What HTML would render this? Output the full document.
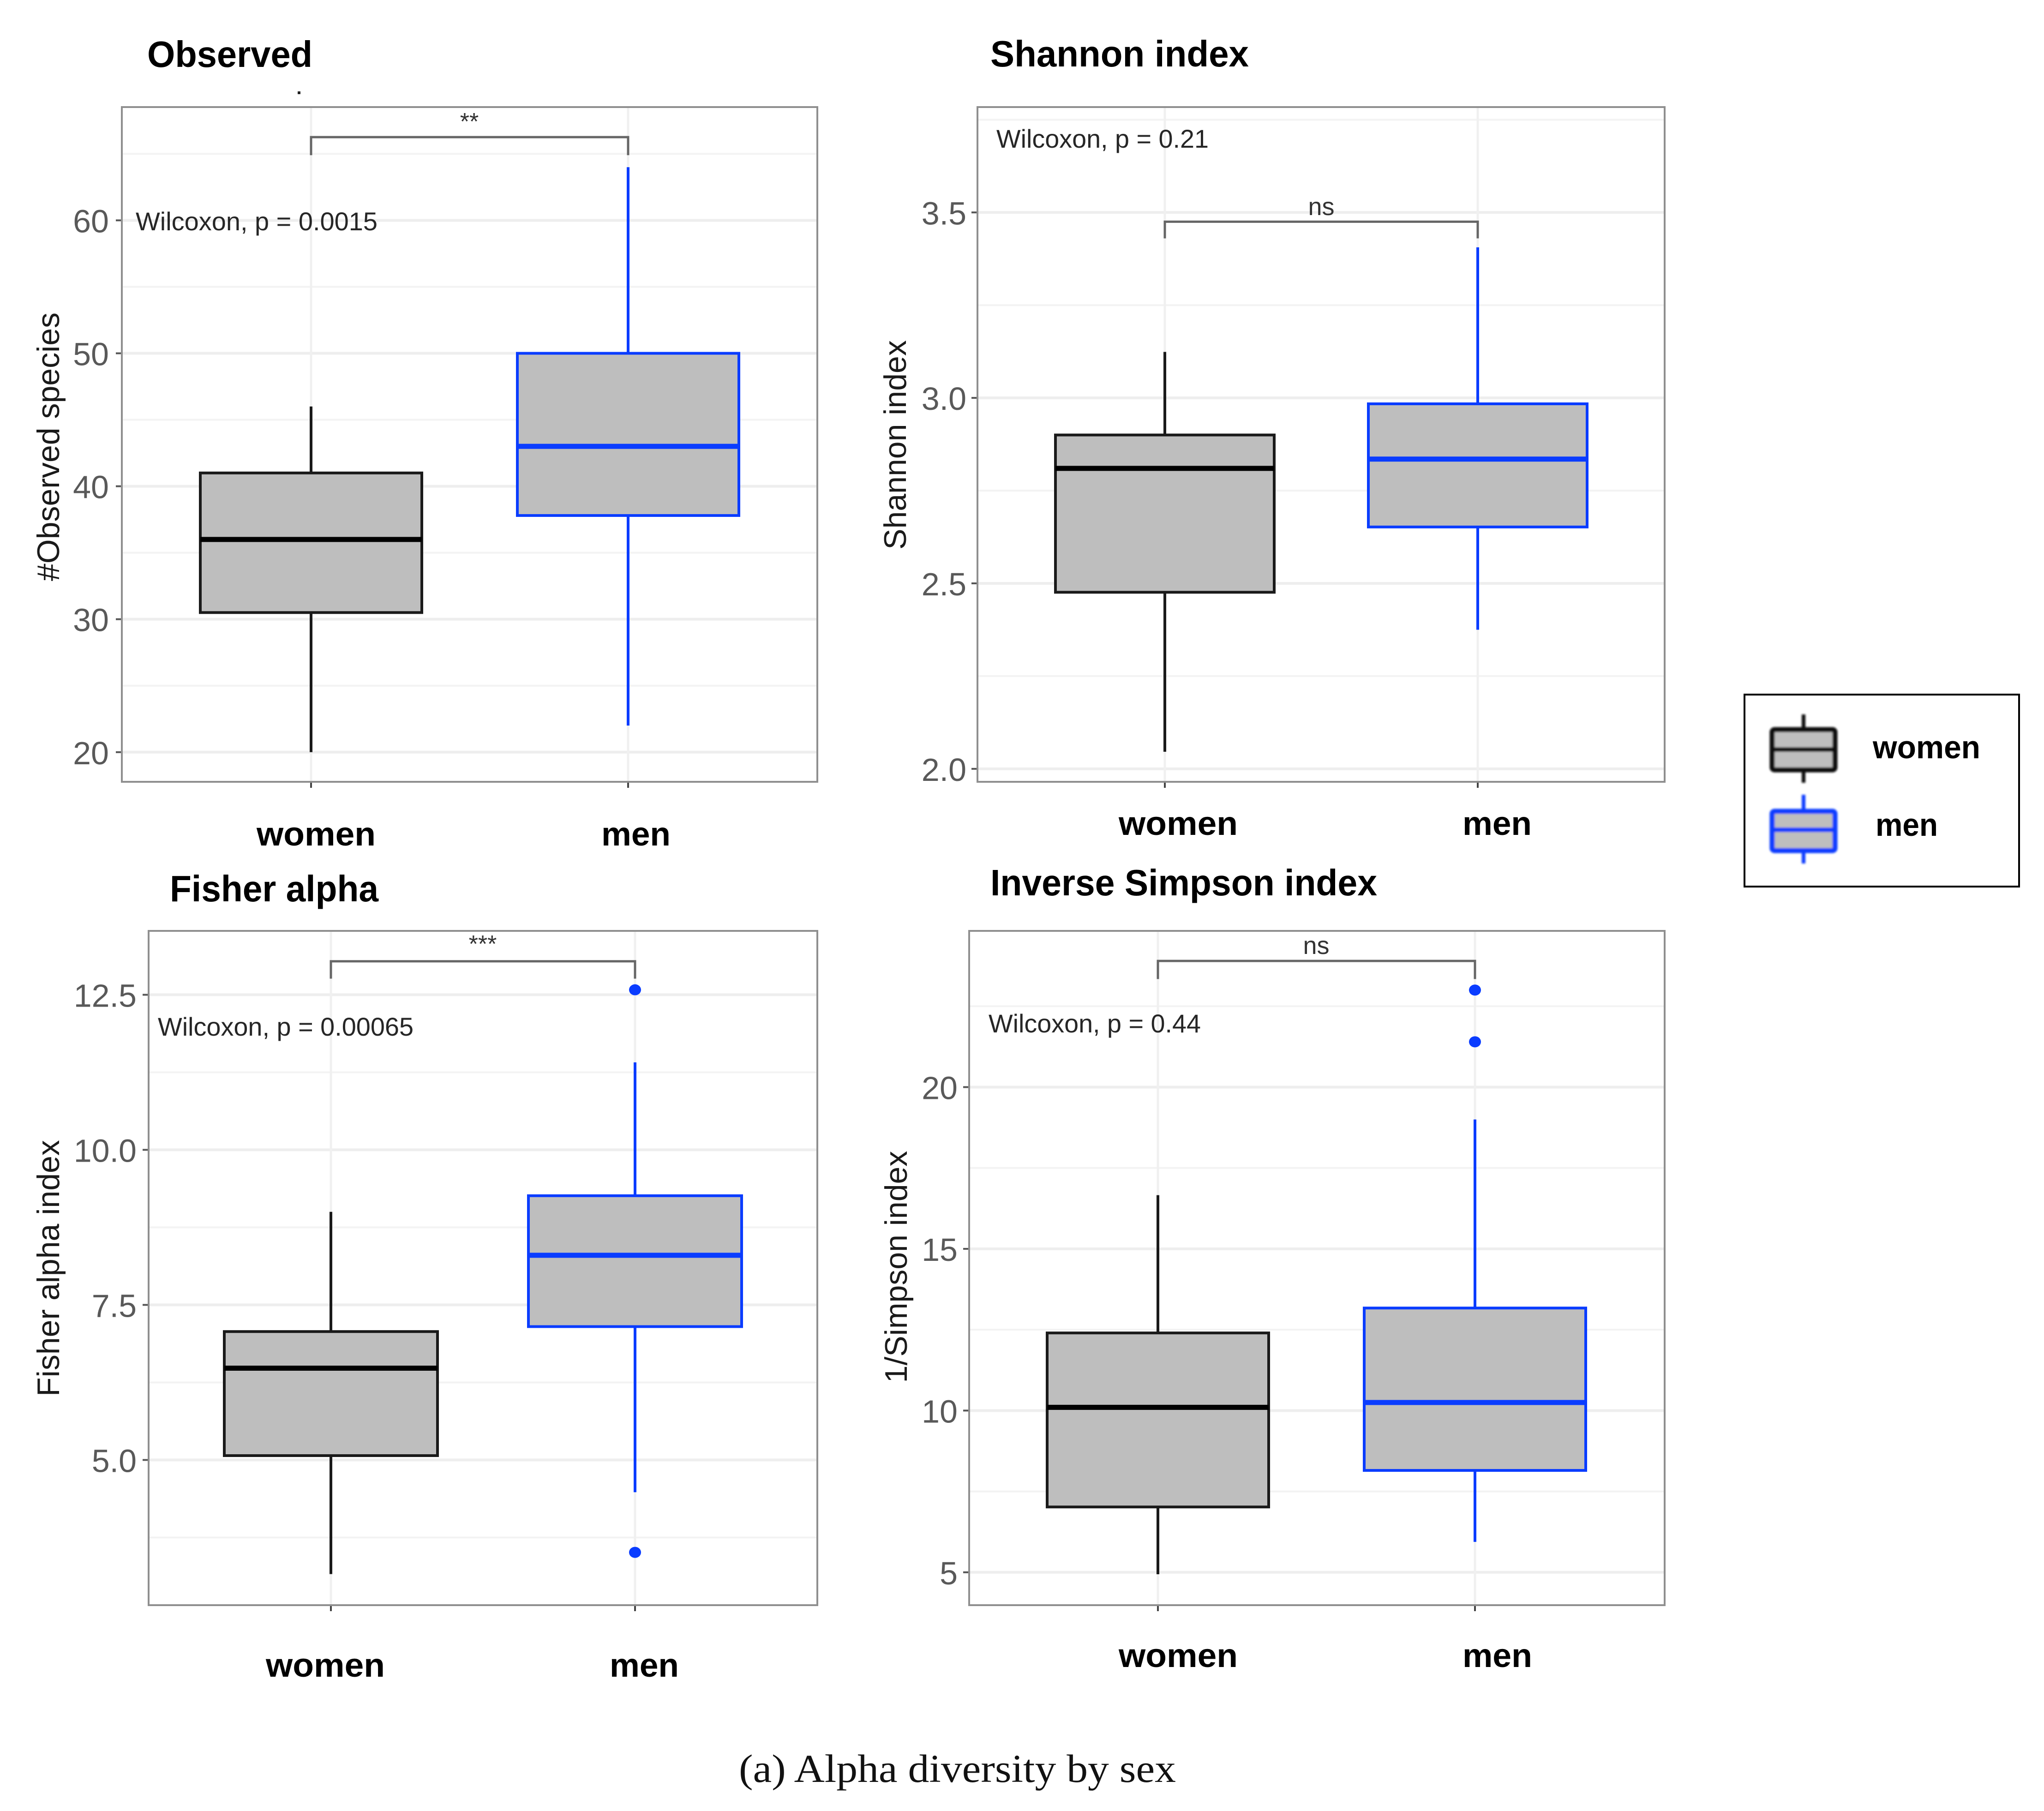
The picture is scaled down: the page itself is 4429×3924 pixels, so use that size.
<!DOCTYPE html>
<html lang="en">
<head>
<meta charset="utf-8">
<title>Alpha diversity by sex</title>
<style>
html,body{margin:0;padding:0;background:#fff;}
svg{display:block;}
.t{font-family:"Liberation Sans",sans-serif;}
.b{font-family:"Liberation Sans",sans-serif;font-weight:700;fill:#000;}
.w{font-size:55.6px;fill:#262626;}
.a{font-size:68px;fill:#1a1a1a;}
</style>
</head>
<body>
<svg id="chart" xmlns="http://www.w3.org/2000/svg" width="4429" height="3924" viewBox="0 0 4429 3924">
  <defs>
    <filter id="soft" x="-10%" y="-10%" width="120%" height="120%"><feGaussianBlur stdDeviation="2"/></filter>
  </defs>
  <rect x="0" y="0" width="4429" height="3924" fill="#fff"/>
  <g id="panels"></g>

  <rect x="645" y="198" width="6" height="6" fill="#222"/>

  <text class="b" x="319" y="145" font-size="80" textLength="358" lengthAdjust="spacingAndGlyphs">Observed</text>
  <text class="b" x="2146" y="144" font-size="80" textLength="560" lengthAdjust="spacingAndGlyphs">Shannon index</text>
  <text class="b" x="368" y="1953" font-size="80" textLength="452" lengthAdjust="spacingAndGlyphs">Fisher alpha</text>
  <text class="b" x="2146" y="1940" font-size="80" textLength="838" lengthAdjust="spacingAndGlyphs">Inverse Simpson index</text>

  <text class="t w" x="294" y="499" textLength="524" lengthAdjust="spacingAndGlyphs">Wilcoxon, p = 0.0015</text>
  <text class="t w" x="2159" y="320" textLength="460" lengthAdjust="spacingAndGlyphs">Wilcoxon, p = 0.21</text>
  <text class="t w" x="342" y="2244" textLength="554" lengthAdjust="spacingAndGlyphs">Wilcoxon, p = 0.00065</text>
  <text class="t w" x="2142" y="2237" textLength="460" lengthAdjust="spacingAndGlyphs">Wilcoxon, p = 0.44</text>

  <text class="t" x="1017" y="281" font-size="52" fill="#333" text-anchor="middle">**</text>
  <text class="t" x="2863" y="466" font-size="54" fill="#333" text-anchor="middle">ns</text>
  <text class="t" x="1046" y="2063" font-size="52" fill="#333" text-anchor="middle">***</text>
  <text class="t" x="2852" y="2067" font-size="54" fill="#333" text-anchor="middle">ns</text>

  <text class="t a" transform="translate(128 968) rotate(-90)" text-anchor="middle">#Observed species</text>
  <text class="t a" transform="translate(1963 964) rotate(-90)" text-anchor="middle">Shannon index</text>
  <text class="t a" transform="translate(128 2748) rotate(-90)" text-anchor="middle">Fisher alpha index</text>
  <text class="t a" transform="translate(1965 2745) rotate(-90)" text-anchor="middle">1/Simpson index</text>

  <g>
    <rect x="3780" y="1505" width="595" height="416" fill="#fff" stroke="#000" stroke-width="4"/>
    <g filter="url(#soft)">
      <line x1="3908" x2="3908" y1="1548" y2="1696" stroke="#111" stroke-width="8"/>
      <rect x="3840" y="1581" width="136" height="87" rx="5" fill="#bebebe" stroke="#111" stroke-width="11"/>
      <line x1="3838" x2="3978" y1="1624" y2="1624" stroke="#111" stroke-width="10"/>
    </g>
    <text class="b" x="4058" y="1643" font-size="70" textLength="233" lengthAdjust="spacingAndGlyphs">women</text>
    <g filter="url(#soft)">
      <line x1="3908" x2="3908" y1="1722" y2="1871" stroke="#0a3cff" stroke-width="8"/>
      <rect x="3840" y="1758" width="136" height="85" rx="5" fill="#bebebe" stroke="#0a3cff" stroke-width="11"/>
      <line x1="3838" x2="3978" y1="1798" y2="1798" stroke="#0a3cff" stroke-width="10"/>
    </g>
    <text class="b" x="4064" y="1811" font-size="70" textLength="135" lengthAdjust="spacingAndGlyphs">men</text>
  </g>

  <text x="1601" y="3861" font-family="'Liberation Serif',serif" font-size="86" fill="#111" textLength="947" lengthAdjust="spacingAndGlyphs">(a) Alpha diversity by sex</text>
</svg>

<script>
// ---- data: [lower whisker, Q1, median, Q3, upper whisker] ----
const categories = ['women', 'men'];

const observedWomen = [20, 30.5, 36, 41, 46];
const observedMen = [22, 37.8, 43, 50, 64];
const observedOutliersMen = [];
const observedTicks = [20, 30, 40, 50, 60];
const observedTickLabels = ['20', '30', '40', '50', '60'];
const observedMinorTicks = [25, 35, 45, 55, 65];
const observedDomain = [17.77, 68.52];
const observedBracket = [66.26, 64.9];

const shannonWomen = [2.046, 2.476, 2.81, 2.9, 3.124];
const shannonMen = [2.375, 2.652, 2.835, 2.984, 3.406];
const shannonOutliersMen = [];
const shannonTicks = [2.0, 2.5, 3.0, 3.5];
const shannonTickLabels = ['2.0', '2.5', '3.0', '3.5'];
const shannonMinorTicks = [2.25, 2.75, 3.25, 3.75];
const shannonDomain = [1.965, 3.784];
const shannonBracket = [3.475, 3.43];

const fisherWomen = [3.16, 5.07, 6.48, 7.07, 9.0];
const fisherMen = [4.48, 7.15, 8.3, 9.26, 11.41];
const fisherOutliersMen = [12.58, 3.51];
const fisherTicks = [5, 7.5, 10, 12.5];
const fisherTickLabels = ['5.0', '7.5', '10.0', '12.5'];
const fisherMinorTicks = [3.75, 6.25, 8.75, 11.25];
const fisherDomain = [2.659, 13.53];
const fisherBracket = [13.04, 12.76];

const simpsonWomen = [4.94, 7.02, 10.1, 12.4, 16.66];
const simpsonMen = [5.94, 8.15, 10.25, 13.17, 19.0];
const simpsonOutliersMen = [23.0, 21.4];
const simpsonTicks = [5, 10, 15, 20];
const simpsonTickLabels = ['5', '10', '15', '20'];
const simpsonMinorTicks = [7.5, 12.5, 17.5, 22.5];
const simpsonDomain = [3.984, 24.83];
const simpsonBracket = [23.9, 23.34];

// ---- layout (pixels), kept apart from the data ----
const panelLayouts = [
  {key:'observed', left:264,  right:1771, top:232,  bottom:1694, x0:674,  dx:687, half:240, tickRight:236,  labelY:1832, labelLeft:[556,1303],  labelWidth:[258,150],
   women:observedWomen, men:observedMen, outliers:observedOutliersMen, ticks:observedTicks, tickLabels:observedTickLabels, minor:observedMinorTicks, domain:observedDomain, bracket:observedBracket},
  {key:'shannon',  left:2118, right:3607, top:232,  bottom:1694, x0:2524, dx:678, half:237, tickRight:2094, labelY:1809, labelLeft:[2424,3169], labelWidth:[258,150],
   women:shannonWomen, men:shannonMen, outliers:shannonOutliersMen, ticks:shannonTicks, tickLabels:shannonTickLabels, minor:shannonMinorTicks, domain:shannonDomain, bracket:shannonBracket},
  {key:'fisher',   left:322,  right:1771, top:2017, bottom:3478, x0:717,  dx:659, half:231, tickRight:296,  labelY:3633, labelLeft:[576,1321],  labelWidth:[258,150],
   women:fisherWomen, men:fisherMen, outliers:fisherOutliersMen, ticks:fisherTicks, tickLabels:fisherTickLabels, minor:fisherMinorTicks, domain:fisherDomain, bracket:fisherBracket},
  {key:'simpson',  left:2100, right:3607, top:2017, bottom:3478, x0:2509, dx:687, half:240, tickRight:2075, labelY:3612, labelLeft:[2424,3169], labelWidth:[258,151],
   women:simpsonWomen, men:simpsonMen, outliers:simpsonOutliersMen, ticks:simpsonTicks, tickLabels:simpsonTickLabels, minor:simpsonMinorTicks, domain:simpsonDomain, bracket:simpsonBracket}
];

const NS = 'http://www.w3.org/2000/svg';
const root = document.getElementById('panels');

function svgEl(parent, tag, attrs) {
  const el = document.createElementNS(NS, tag);
  for (const k in attrs) el.setAttribute(k, attrs[k]);
  parent.appendChild(el);
  return el;
}

function drawPanel(p) {
  const yScale = v => p.bottom - (v - p.domain[0]) / (p.domain[1] - p.domain[0]) * (p.bottom - p.top);
  const xScale = i => p.x0 + i * p.dx;
  const g = svgEl(root, 'g', {});
  
  

  const bg = svgEl(g, 'rect', {x:p.left, y:p.top, width:p.right-p.left, height:p.bottom-p.top, fill:'#fff'});
  
  

  p.minor.forEach(v => {
    if (yScale(v) < p.top) return;
    const el = svgEl(g, 'line', {x1:p.left, x2:p.right, y1:yScale(v), y2:yScale(v), stroke:'#f3f3f3', 'stroke-width':4});
    
    
  });
  p.ticks.forEach((v, i) => {
    const y = yScale(v);
    const grid = svgEl(g, 'line', {x1:p.left, x2:p.right, y1:y, y2:y, stroke:'#eeeeee', 'stroke-width':6});
    
    
    const tick = svgEl(g, 'line', {x1:p.left-13, x2:p.left, y1:y, y2:y, stroke:'#555', 'stroke-width':4});
    
    
    const label = svgEl(g, 'text', {x:p.tickRight, y:y+26, 'text-anchor':'end', 'font-family':'"Liberation Sans",sans-serif', 'font-size':70, fill:'#595959'});
    label.textContent = p.tickLabels[i];
    
    
  });

  categories.forEach((name, i) => {
    const x = xScale(i);
    const vgrid = svgEl(g, 'line', {x1:x, x2:x, y1:p.top, y2:p.bottom, stroke:'#f0f0f0', 'stroke-width':5});
    
    

    const tick = svgEl(g, 'line', {x1:x, x2:x, y1:p.bottom, y2:p.bottom+13, stroke:'#444', 'stroke-width':4});
    
    

    const label = svgEl(g, 'text', {x:p.labelLeft[i], y:p.labelY, 'font-family':'"Liberation Sans",sans-serif', 'font-weight':700, 'font-size':72, fill:'#000', textLength:p.labelWidth[i], lengthAdjust:'spacingAndGlyphs'});
    label.textContent = name;
    
    
  });

  categories.forEach((name, i) => {
    const x = xScale(i);
    const color = i === 0 ? '#1a1a1a' : '#0a3cff';
    const stats = i === 0 ? p.women : p.men;

    const whisker = svgEl(g, 'line', {x1:x, x2:x, y1:yScale(stats[0]), y2:yScale(stats[4]), stroke:color, 'stroke-width':6});
    
    

    const box = svgEl(g, 'rect', {x:x-p.half, y:yScale(stats[3]), width:p.half*2, height:yScale(stats[1])-yScale(stats[3]), fill:'#bebebe', stroke:color, 'stroke-width':6});
    
    

    const median = svgEl(g, 'line', {x1:x-p.half, x2:x+p.half, y1:yScale(stats[2]), y2:yScale(stats[2]), stroke:i === 0 ? '#000' : color, 'stroke-width':11});
    
    
  });

  p.outliers.forEach(v => {
    const dot = svgEl(g, 'ellipse', {cx:xScale(1), cy:yScale(v), rx:13, ry:12, fill:'#0a3cff'});
    
    
  });

  const by = yScale(p.bracket[0]);
  const tip = yScale(p.bracket[1]);
  const bracket = svgEl(g, 'path', {d:'M'+xScale(0)+' '+tip+'V'+by+'H'+xScale(1)+'V'+tip, fill:'none', stroke:'#666', 'stroke-width':5});
  
  

  const frame = svgEl(g, 'rect', {x:p.left, y:p.top, width:p.right-p.left, height:p.bottom-p.top, fill:'none', stroke:'#8f8f8f', 'stroke-width':4});
  
  
}

panelLayouts.forEach(drawPanel);
</script>
</body>
</html>
